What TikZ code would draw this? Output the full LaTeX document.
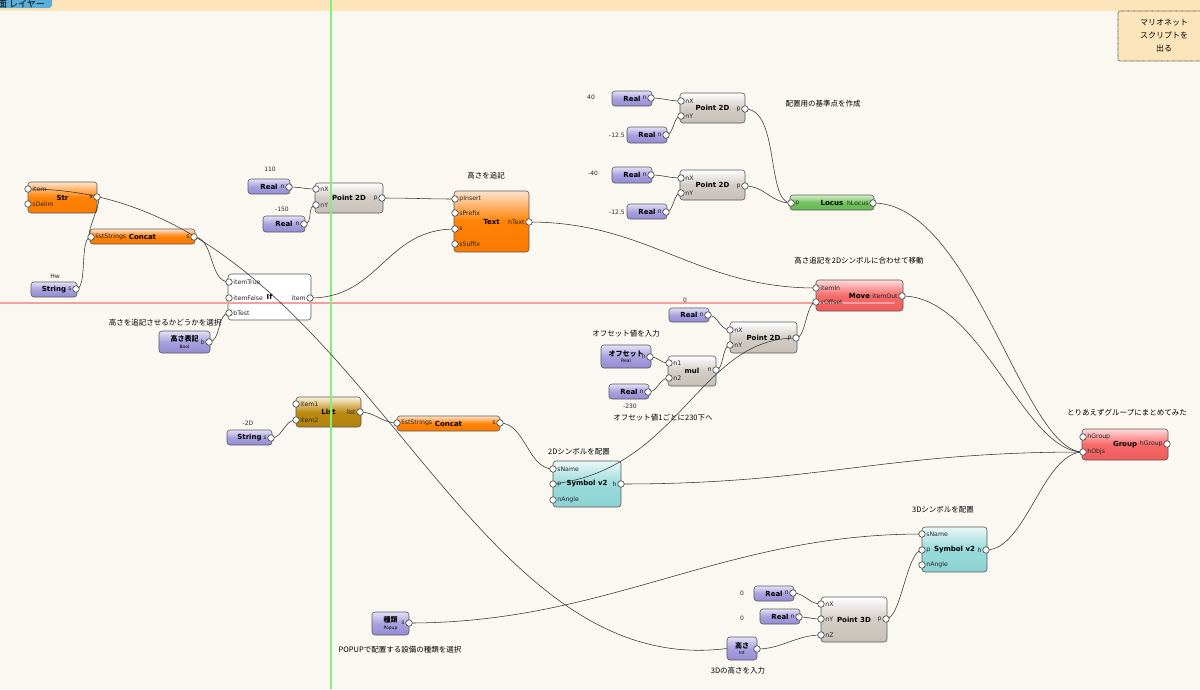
\documentclass[tikz,border=0pt]{standalone}
\usepackage{fontspec}
\setmainfont{DejaVu Sans}
\newfontfamily\jp{Noto Sans CJK JP}
\newcommand{\blksub}{\normalfont\fontsize{4.5}{5}\selectfont}
\pgfdeclarelayer{bg}
\pgfdeclarelayer{fg}
\pgfsetlayers{bg,main,fg}
\definecolor{paper}{HTML}{FAF8F0}
\definecolor{barT}{HTML}{FCE5BA}
\definecolor{tabB}{HTML}{5AAFD8}
\definecolor{guideR}{HTML}{F4A0A0}
\definecolor{guideG}{HTML}{80F080}
\definecolor{valT}{HTML}{E4E1F7}
\definecolor{valM}{HTML}{A8A1DE}
\definecolor{valB}{HTML}{938BD2}
\definecolor{oraT}{HTML}{FFE3CC}
\definecolor{oraM}{HTML}{FF8205}
\definecolor{oraB}{HTML}{F97A00}
\definecolor{gryT}{HTML}{FFFFFF}
\definecolor{gryM}{HTML}{D3CCC5}
\definecolor{gryB}{HTML}{C8C1BA}
\definecolor{grnT}{HTML}{D5EFCB}
\definecolor{grnM}{HTML}{72C25E}
\definecolor{grnB}{HTML}{66B853}
\definecolor{redT}{HTML}{FFDADA}
\definecolor{redM}{HTML}{F66A6A}
\definecolor{redB}{HTML}{F05B5B}
\definecolor{gldT}{HTML}{FBF1DA}
\definecolor{gldM}{HTML}{BB8A12}
\definecolor{gldB}{HTML}{B0820C}
\definecolor{cynT}{HTML}{EAF8F8}
\definecolor{cynM}{HTML}{99DADA}
\definecolor{cynB}{HTML}{8CD2D2}

\begin{document}
\begin{tikzpicture}[x=1pt,y=-1pt,
  blk/.style={draw=black!65, line width=0.6pt, rounded corners=3pt, inner sep=0pt, font=\bfseries\fontsize{7}{8}\selectfont},
  valblk/.style={blk, top color=valT, bottom color=valB, middle color=valM},
  orablk/.style={blk, top color=oraT, bottom color=oraB, middle color=oraM},
  gryblk/.style={blk, top color=gryT, bottom color=gryB, middle color=gryM},
  grnblk/.style={blk, top color=grnT, bottom color=grnB, middle color=grnM},
  redblk/.style={blk, top color=redT, bottom color=redB, middle color=redM},
  gldblk/.style={blk, top color=gldT, bottom color=gldB, middle color=gldM},
  cynblk/.style={blk, top color=cynT, bottom color=cynB, middle color=cynM},
  port/.style={circle, draw=black!75, fill=white, line width=0.6pt, minimum size=6.5pt, inner sep=0pt},
  pl/.style={font=\fontsize{6.2}{6.5}\selectfont, inner sep=0.6pt, text=black!85},
  wire/.style={draw=black!80, line width=0.55pt},
  note/.style={font=\jp\fontsize{7.5}{8}\selectfont, text=black, inner sep=0pt},
  num/.style={font=\fontsize{6}{7}\selectfont, text=black!85, inner sep=0pt}]
\useasboundingbox (0,0) rectangle (1200,689);
\fill[paper] (0,0) rectangle (1200,689);

%Top bar and tab
\fill[barT] (0,0) rectangle (1200,11);
\fill[tabB, rounded corners=3pt] (-6,-6) rectangle (52,8);
\node[anchor=base west, inner sep=0pt, font=\jp\fontsize{9}{9}\selectfont] (tab) at (-2,7.5) {面 レイヤー};
\node[draw=black!75, dash pattern=on 0.7pt off 0.5pt, line width=0.6pt, fill=barT, rounded corners=2pt, minimum width=92, minimum height=50, align=center, font=\jp\fontsize{8}{13}\selectfont] (exitbtn) at (1164,36) {マリオネット\\スクリプトを\\出る};

%Page border lines
\begin{pgfonlayer}{bg}
\draw[black!18, line width=1.5pt] (862,11) -- (862,677) -- (0,677);
\end{pgfonlayer}

%Blocks
\node[orablk, minimum width=69, minimum height=31] (str) at (62.5,197.5) {Str};
\node[orablk, minimum width=105, minimum height=15] (cc1) at (142.5,236.5) {Concat};
\node[valblk, minimum width=46, minimum height=15] (hw) at (54,289.5) {String};
\node[blk, fill=white, minimum width=83, minimum height=46] (if) at (269.5,297) {If};
\node[valblk, minimum width=51, minimum height=22, align=center] (bool) at (184.5,342) {\jp 高さ表記\\[-1.5pt]{\blksub Bool}};
\node[valblk, minimum width=42, minimum height=15] (r110) at (269,186.5) {Real};
\node[valblk, minimum width=42, minimum height=16] (r150) at (284,224) {Real};
\node[gryblk, minimum width=68, minimum height=30] (ptxt) at (349,198) {Point 2D};
\node[orablk, minimum width=75, minimum height=61] (txt) at (491.5,221.5) {Text};
\node[valblk, minimum width=40, minimum height=15] (r40) at (632,98.5) {Real};
\node[valblk, minimum width=40, minimum height=16] (r125a) at (647,135) {Real};
\node[gryblk, minimum width=65, minimum height=30] (p2a) at (712.5,108) {Point 2D};
\node[valblk, minimum width=40, minimum height=16] (rm40) at (632,175) {Real};
\node[valblk, minimum width=40, minimum height=15] (r125b) at (647,211.5) {Real};
\node[gryblk, minimum width=65, minimum height=30] (p2b) at (712.5,185) {Point 2D};
\node[grnblk, minimum width=84, minimum height=15] (loc) at (832,202.5) {Locus};
\node[redblk, minimum width=87, minimum height=31] (mv) at (859.5,295.5) {Move};
\node[valblk, minimum width=40, minimum height=14] (r0) at (689,315) {Real};
\node[gryblk, minimum width=67, minimum height=31] (p2c) at (763.5,337.5) {Point 2D};
\node[valblk, minimum width=50, minimum height=23, align=center] (off) at (626,356.5) {\jp オフセット\\[-1.5pt]{\blksub Real}};
\node[gryblk, minimum width=48, minimum height=30] (mul) at (692,371) {mul};
\node[valblk, minimum width=40, minimum height=15] (r230) at (629,391.5) {Real};
\node[gldblk, minimum width=65, minimum height=30] (lst) at (328.5,412) {List};
\node[valblk, minimum width=45, minimum height=15] (s2d) at (249.5,437.5) {String};
\node[orablk, minimum width=103, minimum height=15] (cc2) at (448.5,423.5) {Concat};
\node[cynblk, minimum width=68, minimum height=46] (sym2) at (587,484) {Symbol v2};
\node[redblk, minimum width=86, minimum height=31] (grp) at (1125,444.5) {Group};
\node[cynblk, minimum width=65, minimum height=45] (sym3) at (954.5,549.5) {Symbol v2};
\node[valblk, minimum width=40, minimum height=15] (r0a) at (774,593.5) {Real};
\node[valblk, minimum width=40, minimum height=15] (r0b) at (780,616.5) {Real};
\node[gryblk, minimum width=66, minimum height=45] (p3d) at (854,619.5) {Point 3D};
\node[valblk, minimum width=30, minimum height=23, align=center] (gao) at (742,648.5) {\jp 高さ\\[-1.5pt]{\blksub Int}};
\node[valblk, minimum width=37, minimum height=23, align=center] (pop) at (390.5,623.5) {\jp 種類\\[-1.5pt]{\blksub Popup}};

%Guide lines
\fill[guideR] (0,302.4) rectangle (895,303.6);
\fill[guideG] (330.4,0) rectangle (331.6,689);

%Ports
\begin{pgfonlayer}{fg}
\node[port, label={[pl]right:item}] (str-item) at (28,189) {};
\node[port, label={[pl]right:sDelim}] (str-dl) at (28,204) {};
\node[port, label={[pl]left:s}] (str-s) at (97,197) {};
\node[port, label={[pl]right:listStrings}] (cc1-ls) at (91,237) {};
\node[port, label={[pl]left:s}] (cc1-s) at (194,237) {};
\node[port, label={[pl]left:s}] (hw-o) at (76,289) {};
\node[port, label={[pl]right:itemTrue}] (if-t) at (229,282) {};
\node[port, label={[pl]right:itemFalse}] (if-f) at (229,298) {};
\node[port, label={[pl]right:bTest}] (if-b) at (229,313) {};
\node[port, label={[pl]left:item}] (if-o) at (310,298) {};
\node[port, label={[pl]left:b}] (bool-o) at (209,342) {};
\node[port, label={[pl]left:n}] (r110-o) at (289,187) {};
\node[port, label={[pl]left:n}] (r150-o) at (304,224) {};
\node[port, label={[pl]right:nX}] (ptxt-nx) at (316,189) {};
\node[port, label={[pl]right:nY}] (ptxt-ny) at (316,205) {};
\node[port, label={[pl]left:p}] (ptxt-p) at (382,198) {};
\node[port, label={[pl]right:pInsert}] (txt-pi) at (455,199) {};
\node[port, label={[pl]right:sPrefix}] (txt-pp) at (455,213) {};
\node[port, label={[pl]right:s}] (txt-s) at (455,229) {};
\node[port, label={[pl]right:sSuffix}] (txt-ss) at (455,244) {};
\node[port, label={[pl]left:hText}] (txt-o) at (529,222) {};
\node[port, label={[pl]left:n}] (r40-o) at (651,98) {};
\node[port, label={[pl]left:n}] (r125a-o) at (666,135) {};
\node[port, label={[pl]left:n}] (rm40-o) at (651,175) {};
\node[port, label={[pl]left:n}] (r125b-o) at (666,212) {};
\node[port, label={[pl]right:nX}] (p2a-nx) at (681,101) {};
\node[port, label={[pl]right:nY}] (p2a-ny) at (681,116) {};
\node[port, label={[pl]left:p}] (p2a-p) at (745,109) {};
\node[port, label={[pl]right:nX}] (p2b-nx) at (681,178) {};
\node[port, label={[pl]right:nY}] (p2b-ny) at (681,193) {};
\node[port, label={[pl]left:p}] (p2b-p) at (745,186) {};
\node[port, label={[pl]right:p}] (loc-p) at (791,203) {};
\node[port, label={[pl]left:hLocus}] (loc-o) at (873,203) {};
\node[port, label={[pl]right:itemIn}] (mv-in) at (816,288) {};
\node[port, label={[pl]right:vOffset}] (mv-off) at (816,302) {};
\node[port, label={[pl]left:itemOut}] (mv-o) at (902,296) {};
\node[port, label={[pl]left:n}] (r0-o) at (708,315) {};
\node[port, label={[pl]right:nX}] (p2c-nx) at (730,330) {};
\node[port, label={[pl]right:nY}] (p2c-ny) at (730,345) {};
\node[port, label={[pl]left:p}] (p2c-p) at (796,338) {};
\node[port, label={[pl]left:n}] (off-o) at (650,357) {};
\node[port, label={[pl]right:n1}] (mul-n1) at (669,363) {};
\node[port, label={[pl]right:n2}] (mul-n2) at (669,378) {};
\node[port, label={[pl]left:n}] (mul-o) at (716,370) {};
\node[port, label={[pl]left:n}] (r230-o) at (648,392) {};
\node[port, label={[pl]right:item1}] (lst-i1) at (296,404) {};
\node[port, label={[pl]right:item2}] (lst-i2) at (296,420) {};
\node[port, label={[pl]left:list}] (lst-o) at (360,412) {};
\node[port, label={[pl]left:s}] (s2d-o) at (271,438) {};
\node[port, label={[pl]right:listStrings}] (cc2-ls) at (397,423) {};
\node[port, label={[pl]left:s}] (cc2-s) at (500,423) {};
\node[port, label={[pl]right:sName}] (sym2-sn) at (553,469) {};
\node[port, label={[pl]right:p}] (sym2-p) at (553,484) {};
\node[port, label={[pl]right:nAngle}] (sym2-na) at (553,500) {};
\node[port, label={[pl]left:h}] (sym2-o) at (621,484) {};
\node[port, label={[pl]right:hGroup}] (grp-hg) at (1083,437) {};
\node[port, label={[pl]right:hObjs}] (grp-ho) at (1083,452) {};
\node[port, label={[pl]left:hGroup}] (grp-o) at (1167,444) {};
\node[port, label={[pl]right:sName}] (sym3-sn) at (922,534) {};
\node[port, label={[pl]right:p}] (sym3-p) at (922,550) {};
\node[port, label={[pl]right:nAngle}] (sym3-na) at (922,565) {};
\node[port, label={[pl]left:h}] (sym3-o) at (986,550) {};
\node[port, label={[pl]left:n}] (r0a-o) at (793,593) {};
\node[port, label={[pl]left:n}] (r0b-o) at (799,617) {};
\node[port, label={[pl]right:nX}] (p3d-nx) at (821,604) {};
\node[port, label={[pl]right:nY}] (p3d-ny) at (821,619) {};
\node[port, label={[pl]right:nZ}] (p3d-nz) at (821,635) {};
\node[port, label={[pl]left:p}] (p3d-p) at (886,619) {};
\node[port] (gao-o) at (757,649) {};
\node[port, label={[pl]left:s}] (pop-o) at (409,623) {};
\end{pgfonlayer}

%Wires
\draw[wire] (hw-o.center) .. controls +(12,0) and +(-12,0) .. (cc1-ls.center);
\draw[wire] (str-s.center) .. controls +(8,0) and +(-8,0) .. (cc1-ls.center);
\draw[wire] (cc1-s.center) .. controls +(20,0) and +(-20,0) .. (if-t.center);
\draw[wire] (bool-o.center) .. controls +(12,0) and +(-12,0) .. (if-b.center);
\draw[wire] (if-o.center) .. controls +(70,0) and +(-70,0) .. (txt-s.center);
\draw[wire] (r110-o.center) .. controls +(14,0) and +(-14,0) .. (ptxt-nx.center);
\draw[wire] (r150-o.center) .. controls +(10,0) and +(-10,0) .. (ptxt-ny.center);
\draw[wire] (ptxt-p.center) .. controls +(30,0) and +(-30,0) .. (txt-pi.center);
\draw[wire] (txt-o.center) .. controls +(120,0) and +(-120,0) .. (mv-in.center);
\draw[wire] (r40-o.center) .. controls +(12,0) and +(-12,0) .. (p2a-nx.center);
\draw[wire] (r125a-o.center) .. controls +(8,0) and +(-8,0) .. (p2a-ny.center);
\draw[wire] (rm40-o.center) .. controls +(12,0) and +(-12,0) .. (p2b-nx.center);
\draw[wire] (r125b-o.center) .. controls +(8,0) and +(-8,0) .. (p2b-ny.center);
\draw[wire] (p2a-p.center) .. controls +(35,0) and +(-25,0) .. (loc-p.center);
\draw[wire] (p2b-p.center) .. controls +(20,0) and +(-20,0) .. (loc-p.center);
\draw[wire] (loc-o.center) .. controls +(100,0) and +(-60,0) .. (grp-ho.center);
\draw[wire] (mv-o.center) .. controls +(80,0) and +(-60,0) .. (grp-ho.center);
\draw[wire] (sym2-o.center) .. controls +(200,0) and +(-200,0) .. (grp-ho.center);
\draw[wire] (sym3-o.center) .. controls +(40,0) and +(-40,0) .. (grp-ho.center);
\draw[wire] (r0-o.center) .. controls +(10,0) and +(-10,0) .. (p2c-nx.center);
\draw[wire] (mul-o.center) .. controls +(8,0) and +(-8,0) .. (p2c-ny.center);
\draw[wire] (off-o.center) .. controls +(10,0) and +(-10,0) .. (mul-n1.center);
\draw[wire] (r230-o.center) .. controls +(10,0) and +(-10,0) .. (mul-n2.center);
\draw[wire] (p2c-p.center) .. controls +(10,0) and +(-10,0) .. (mv-off.center);
\draw[wire] (p2c-p.center) .. controls +(-97,0) and +(127,-15) .. (sym2-p.center);
\draw[wire] (s2d-o.center) .. controls +(12,0) and +(-12,0) .. (lst-i2.center);
\draw[wire] (lst-o.center) .. controls +(15,0) and +(-15,0) .. (cc2-ls.center);
\draw[wire] (cc2-s.center) .. controls +(25,0) and +(-25,0) .. (sym2-sn.center);
\draw[wire] (pop-o.center) .. controls +(200,0) and +(-200,0) .. (sym3-sn.center);
\draw[wire] (p3d-p.center) .. controls +(15,0) and +(-15,0) .. (sym3-p.center);
\draw[wire] (r0a-o.center) .. controls +(12,0) and +(-12,0) .. (p3d-nx.center);
\draw[wire] (r0b-o.center) .. controls +(10,0) and +(-10,0) .. (p3d-ny.center);
\draw[wire] (gao-o.center) .. controls +(25,0) and +(-25,0) .. (p3d-nz.center);
\draw[wire] (gao.west) .. controls +(-277,35) and +(330,0) .. (str-item.center);
\begin{pgfonlayer}{bg}
\draw[wire] (pop-o.center) .. controls +(-60,-60) and +(40,60) .. (lst-i1.center);
\end{pgfonlayer}

% Text Node
\node[note] (n-bool) at (165,323) {高さを追記させるかどうかを選択};
\node[note] (n-txt) at (486,176) {高さを追記};
\node[note] (n-base) at (823,104) {配置用の基準点を作成};
\node[note] (n-mv) at (859,261) {高さ追記を2Dシンボルに合わせて移動};
\node[note] (n-off) at (626,334) {オフセット値を入力};
\node[note] (n-step) at (663,418) {オフセット値1ごとに230下へ};
\node[note] (n-sym2) at (579,452) {2Dシンボルを配置};
\node[note] (n-grp) at (1127,413) {とりあえずグループにまとめてみた};
\node[note] (n-sym3) at (943,510) {3Dシンボルを配置};
\node[note] (n-gao) at (738,671) {3Dの高さを入力};
\node[note] (n-pop) at (400,650) {POPUPで配置する設備の種類を選択};
\node[num] (v-110) at (270,169) {110};
\node[num] (v-150) at (282,209) {-150};
\node[num] (v-40) at (591,97) {40};
\node[num] (v-125a) at (617,135) {-12.5};
\node[num] (v-m40) at (593,173) {-40};
\node[num] (v-125b) at (617,212) {-12.5};
\node[num] (v-0) at (685,300) {0};
\node[num] (v-230) at (630,406) {-230};
\node[num] (v-hw) at (55,276) {Hw};
\node[num] (v-2d) at (248,423) {-2D};
\node[num] (v-0a) at (742,593) {0};
\node[num] (v-0b) at (742,618) {0};
\end{tikzpicture}
\end{document}
